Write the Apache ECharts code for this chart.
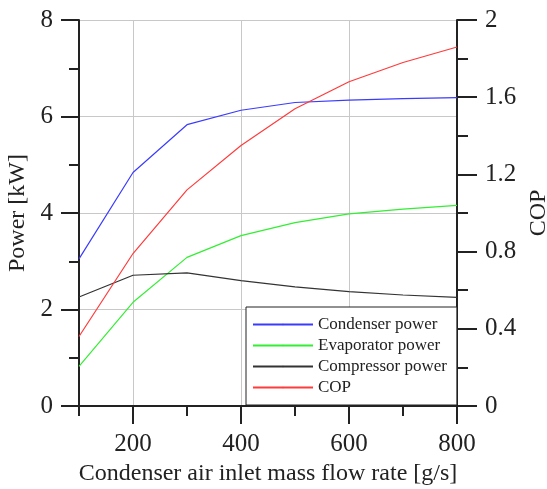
<!DOCTYPE html>
<html>
<head>
<meta charset="utf-8">
<style>
  html, body { margin: 0; padding: 0; background: #fff; }
  #chart { width: 547px; height: 489px; }
</style>
<script src="https://cdn.jsdelivr.net/npm/echarts@6/dist/echarts.min.js"></script>
</head>
<body>
<div id="chart"></div>
<script>
// mass flow rate [g/s]
var flowRate = [100, 200, 300, 400, 500, 600, 700, 800]
// power [kW]
var condenserPower = [3.05, 4.84, 5.83, 6.13, 6.29, 6.34, 6.37, 6.39]
var evaporatorPower = [0.82, 2.15, 3.08, 3.53, 3.80, 3.98, 4.08, 4.16]
var compressorPower = [2.26, 2.71, 2.76, 2.60, 2.47, 2.37, 2.30, 2.25]
// COP [-]
var cop = [0.36, 0.79, 1.12, 1.35, 1.54, 1.68, 1.78, 1.86]

var xMajor = [200, 400, 600, 800]
var xMinor = [100, 300, 500, 700]

var font = 'Liberation Serif'

function pairs(ys) {
  return flowRate.map(function(x, i) { return [x, ys[i]] })
}

function lineSeries(name, ys, color, yIndex) {
  return {
    name: name,
    type: 'line',
    yAxisIndex: yIndex,
    data: pairs(ys),
    symbol: 'none',
    silent: true,
    lineStyle: { color: color, width: 1.2 },
    itemStyle: { color: color }
  }
}

var chart = echarts.init(document.getElementById('chart'))
chart.setOption({
  animation: false,
  grid: { left: 79, right: 90, top: 20, bottom: 83, outerBoundsMode: 'none' },
  legend: {
    orient: 'vertical',
    left: 246,
    top: 307,
    width: 205,
    padding: [9, 10, 9, 6],
    itemGap: 4,
    itemWidth: 60,
    itemHeight: 2,
    borderColor: '#222',
    borderWidth: 1,
    backgroundColor: '#fff',
    textStyle: { fontFamily: font, fontSize: 17, color: '#222' },
    data: ['Condenser power', 'Evaporator power', 'Compressor power', 'COP']
  },
  xAxis: [{
    type: 'value',
    min: 100,
    max: 800,
    interval: 100,
    name: 'Condenser air inlet mass flow rate [g/s]',
    nameLocation: 'middle',
    nameGap: 52,
    nameTextStyle: { fontFamily: font, fontSize: 24, color: '#222' },
    axisLine: { lineStyle: { color: '#222', width: 2 } },
    axisTick: { customValues: xMajor, length: 18, lineStyle: { color: '#222', width: 2 } },
    axisLabel: { customValues: xMajor, margin: 26, fontFamily: font, fontSize: 25, color: '#222' },
    splitLine: { show: true, lineStyle: { color: '#c8c8c8', width: 1 } }
  }, {
    type: 'value',
    min: 100,
    max: 800,
    interval: 100,
    position: 'bottom',
    axisLine: { show: false },
    axisTick: { customValues: xMinor, length: 10, lineStyle: { color: '#222', width: 2 } },
    axisLabel: { show: false },
    splitLine: { show: false }
  }],
  yAxis: [{
    type: 'value',
    min: 0,
    max: 8,
    interval: 2,
    name: 'Power [kW]',
    nameLocation: 'middle',
    nameGap: 40,
    nameTextStyle: { fontFamily: font, fontSize: 24, color: '#222' },
    axisLine: { show: true, lineStyle: { color: '#222', width: 2 } },
    axisTick: { show: true, length: 18, lineStyle: { color: '#222', width: 2 } },
    minorTick: { show: true, splitNumber: 2, length: 10, lineStyle: { color: '#222', width: 2 } },
    axisLabel: { margin: 26, fontFamily: font, fontSize: 25, color: '#222' },
    splitLine: { show: true, lineStyle: { color: '#c8c8c8', width: 1 } }
  }, {
    type: 'value',
    min: 0,
    max: 2,
    interval: 0.4,
    name: 'COP',
    nameLocation: 'middle',
    nameGap: 66,
    nameTextStyle: { fontFamily: font, fontSize: 24, color: '#222' },
    axisLine: { show: true, lineStyle: { color: '#222', width: 2 } },
    axisTick: { show: true, length: 20, lineStyle: { color: '#222', width: 2 } },
    minorTick: { show: true, splitNumber: 2, length: 11, lineStyle: { color: '#222', width: 2 } },
    axisLabel: { margin: 28, fontFamily: font, fontSize: 25, color: '#222' },
    splitLine: { show: false }
  }],
  series: [
    lineSeries('Condenser power', condenserPower, '#3b3bff', 0),
    lineSeries('Evaporator power', evaporatorPower, '#33ee33', 0),
    lineSeries('Compressor power', compressorPower, '#333333', 0),
    lineSeries('COP', cop, '#ff3b3b', 1)
  ]
})
</script>
</body>
</html>
